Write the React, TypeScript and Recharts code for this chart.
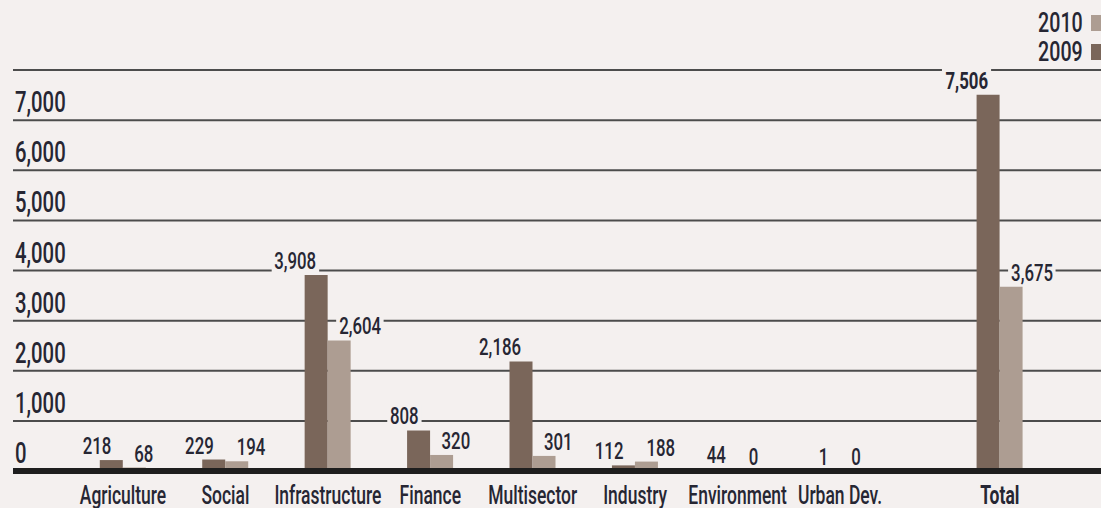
import React from 'react';
import { BarChart, Bar, XAxis, YAxis, CartesianGrid, ReferenceLine, LabelList, Legend } from 'recharts';

const categories = ['Agriculture', 'Social', 'Infrastructure', 'Finance', 'Multisector', 'Industry', 'Environment', 'Urban Dev.', 'Total'];
const values2009 = [218, 229, 3908, 808, 2186, 112, 44, 1, 7506];
const values2010 = [68, 194, 2604, 320, 301, 188, 0, 0, 3675];
const yTicks = [0, 1000, 2000, 3000, 4000, 5000, 6000, 7000, 8000];
const seriesNames = ['2009', '2010'];

const BG = '#f4f0ef';
const DARK = '#7a665a';
const LIGHT = '#ad9d92';
const TEXT = '#262633';
const GRID = '#4c4c4c';
const FONT = 'Roboto, "Liberation Sans", sans-serif';
const SX = 0.7;
const TOTAL_GAP = 0.56;
const X_DOMAIN: [number, number] = [-1.074, 9.548];

const data = categories.map((name, i) => ({
  name,
  pos: i === categories.length - 1 ? i + TOTAL_GAP : i,
  v2009: values2009[i],
  v2010: values2010[i],
}));

const fmt = (v: number) => v.toLocaleString('en-US');

const textWidth = (s: string, fs: number, bold: boolean) => {
  let w = 0;
  for (const ch of s) w += ch === ',' ? 0.22 : 0.562;
  return w * fs * SX * (bold ? 1.04 : 1);
};

const ValueText = ({ cx, baseline, value, side, bold }: any) => {
  const str = fmt(Number(value));
  const fs = 24;
  const w = textWidth(str, fs, bold);
  const left = side === 'dark' ? cx - w : cx;
  return (
    <g>
      <rect x={left - 3} y={baseline - 20} width={w + 6} height={23} fill={BG} />
      <text
        transform={`translate(${cx},${baseline}) scale(${SX},1)`}
        textAnchor={side === 'dark' ? 'end' : 'start'}
        fontSize={fs}
        fontFamily={FONT}
        fontWeight={bold ? 700 : 500}
        fill={TEXT}
      >
        {str}
      </text>
    </g>
  );
};

const darkLabel = (props: any) => {
  const { x, y, width, height, value, index } = props;
  if (value === undefined || value === null) return null;
  const isTotal = index === categories.length - 1;
  const cx = Number(x) + Number(width) / 2;
  const light = values2010[index];
  return (
    <g>
      <ValueText cx={cx} baseline={Number(y) - 6} value={value} side="dark" bold={isTotal} />
      {light === 0 ? (
        <ValueText
          cx={cx + Number(width)}
          baseline={Number(y) + Number(height) - 6}
          value={light}
          side="light"
          bold={isTotal}
        />
      ) : null}
    </g>
  );
};

const lightLabel = (props: any) => {
  const { x, y, width, value, index } = props;
  if (value === undefined || value === null || value === 0) return null;
  const isTotal = index === categories.length - 1;
  const cx = Number(x) + Number(width) / 2;
  return <ValueText cx={cx} baseline={Number(y) - 6} value={value} side="light" bold={isTotal} />;
};

const YTick = (props: any) => {
  const { x, y, payload } = props;
  if (payload.value === yTicks[yTicks.length - 1]) return <g />;
  return (
    <text
      transform={`translate(${Number(x) + 2},${Number(y) - 8}) scale(${SX},1)`}
      textAnchor="start"
      fontSize={29}
      fontFamily={FONT}
      fontWeight={500}
      fill={TEXT}
    >
      {fmt(payload.value)}
    </text>
  );
};

const XTick = (props: any) => {
  const { x, y, payload } = props;
  const d = data.find((e) => Math.abs(e.pos - payload.value) < 1e-6);
  if (!d) return <g />;
  const bold = d.name === 'Total';
  return (
    <text
      transform={`translate(${x},${Number(y) + 33}) scale(${SX},1)`}
      textAnchor="middle"
      fontSize={25}
      fontFamily={FONT}
      fontWeight={bold ? 700 : 500}
      fill={TEXT}
    >
      {d.name}
    </text>
  );
};

const LegendContent = (props: any) => {
  const items = [...(props.payload || [])].reverse();
  return (
    <div style={{ position: 'relative', width: '100%', height: 70 }}>
      {items.map((it: any, i: number) => (
        <div
          key={it.value}
          style={{
            position: 'absolute',
            right: 0,
            top: i === 0 ? 11 : 40,
            height: 24,
            display: 'flex',
            alignItems: 'center',
          }}
        >
          <span
            style={{
              fontFamily: FONT,
              fontSize: 28,
              fontWeight: 500,
              lineHeight: '24px',
              color: TEXT,
              transform: `scaleX(${SX})`,
              transformOrigin: 'right center',
              display: 'inline-block',
            }}
          >
            {it.value}
          </span>
          <span style={{ width: 16, height: 16, background: it.color, marginLeft: 8, display: 'inline-block' }} />
        </div>
      ))}
    </div>
  );
};

export default function App() {
  return (
    <div
      style={{
        position: 'absolute',
        left: 0,
        top: 0,
        width: 1101,
        height: 508,
        overflow: 'hidden',
        background: BG,
      }}
    >
      <BarChart
        width={1101}
        height={508}
        data={data}
        margin={{ top: 70, right: 0, bottom: 0, left: 0 }}
        barGap={0}
      >
        <CartesianGrid vertical={false} stroke={GRID} strokeWidth={2} />
        <XAxis
          type="number"
          dataKey="pos"
          domain={X_DOMAIN}
          allowDataOverflow
          ticks={data.map((d) => d.pos)}
          interval={0}
          height={37}
          tickLine={false}
          axisLine={false}
          tickSize={0}
          tickMargin={0}
          tick={<XTick />}
        />
        <YAxis
          width={13}
          domain={[0, 8000]}
          ticks={yTicks}
          interval={0}
          tickLine={false}
          axisLine={false}
          tickSize={0}
          tickMargin={0}
          tick={<YTick />}
        />
        <Legend
          layout="vertical"
          align="center"
          verticalAlign="middle"
          wrapperStyle={{ top: 0, left: 0, width: 1107, height: 70 }}
          content={LegendContent}
        />
        <Bar dataKey="v2009" name={seriesNames[0]} fill={DARK} barSize={23} isAnimationActive={false}>
          <LabelList dataKey="v2009" content={darkLabel} />
        </Bar>
        <Bar dataKey="v2010" name={seriesNames[1]} fill={LIGHT} barSize={23} isAnimationActive={false}>
          <LabelList dataKey="v2010" content={lightLabel} />
        </Bar>
        <ReferenceLine y={0} stroke="#1e1e1e" strokeWidth={6} />
      </BarChart>
    </div>
  );
}
